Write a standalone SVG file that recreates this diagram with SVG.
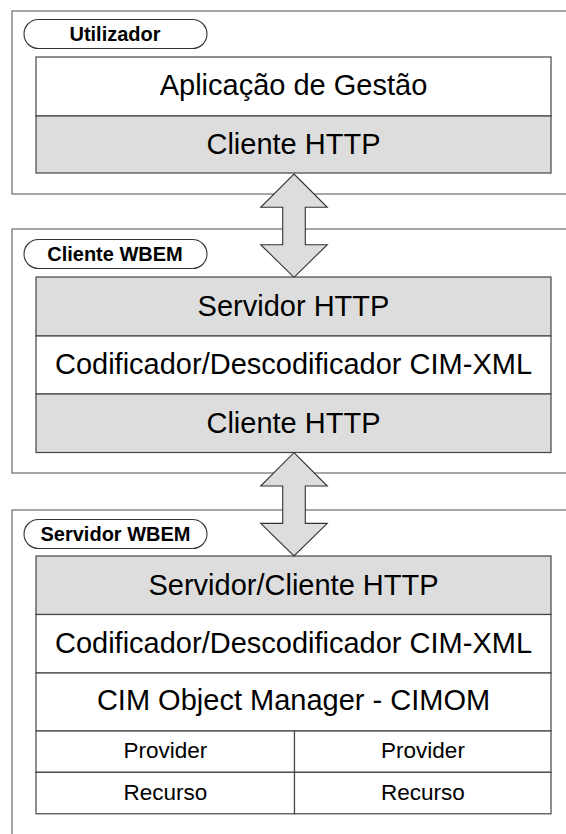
<svg xmlns="http://www.w3.org/2000/svg" width="566" height="834" viewBox="0 0 566 834">
  <style>
    .frame { fill: #ffffff; stroke: #777777; stroke-width: 1.3; }
    .pill { fill: #ffffff; stroke: #333333; stroke-width: 1.1; }
    .cell { fill: #ffffff; stroke: #444444; stroke-width: 1.2; }
    .cell.grey { fill: #dddddd; }
    text { font-family: "Liberation Sans", Arial, sans-serif; fill: #000000; text-anchor: middle; }
    .lbl { font-weight: bold; font-size: 20px; }
    .big { font-size: 29px; }
    .small { font-size: 22.5px; }
    .arrow { fill: #dddddd; stroke: #333333; stroke-width: 1.1; stroke-linejoin: miter; }
  </style>
  <defs>
    <!-- double-headed block arrow, tip at origin, 103 long -->
    <path id="dblArrow" d="M0,0 L33.3,33.3 L11.3,33.3 L11.3,70.7 L33.3,70.7 L0,103.3 L-33.3,70.7 L-11.3,70.7 L-11.3,33.3 L-33.3,33.3 Z"/>
  </defs>

  <rect width="566" height="834" fill="#ffffff"/>

  <!-- Utilizador layer -->
  <g id="utilizador">
    <rect class="frame" x="12" y="11" width="600" height="183"/>
    <rect class="pill" x="24" y="19.5" width="183" height="29" rx="14.5"/>
    <text class="lbl" x="115" y="41">Utilizador</text>
    <g id="aplicacao-gestao">
      <rect class="cell" x="36" y="57" width="515" height="59"/>
      <text class="big" x="293.5" y="95">Aplicação de Gestão</text>
    </g>
    <g id="utilizador-cliente-http">
      <rect class="cell grey" x="36" y="116" width="515" height="57"/>
      <text class="big" x="293.5" y="154">Cliente HTTP</text>
    </g>
  </g>

  <!-- Cliente WBEM layer -->
  <g id="cliente-wbem">
    <rect class="frame" x="12" y="229" width="600" height="244"/>
    <rect class="pill" x="24" y="239.5" width="183" height="29" rx="14.5"/>
    <text class="lbl" x="115" y="261">Cliente WBEM</text>
    <g id="cw-servidor-http">
      <rect class="cell grey" x="36" y="277" width="515" height="59"/>
      <text class="big" x="293.5" y="316">Servidor HTTP</text>
    </g>
    <g id="cw-codificador">
      <rect class="cell" x="36" y="336" width="515" height="58"/>
      <text class="big" x="293.5" y="374">Codificador/Descodificador CIM-XML</text>
    </g>
    <g id="cw-cliente-http">
      <rect class="cell grey" x="36" y="394" width="515" height="58.5"/>
      <text class="big" x="293.5" y="433">Cliente HTTP</text>
    </g>
  </g>

  <!-- Servidor WBEM layer -->
  <g id="servidor-wbem">
    <rect class="frame" x="12" y="510" width="600" height="400"/>
    <rect class="pill" x="24" y="519.5" width="183" height="29" rx="14.5"/>
    <text class="lbl" x="115.5" y="541">Servidor WBEM</text>
    <g id="sw-servidor-cliente-http">
      <rect class="cell grey" x="36" y="556" width="515" height="58.5"/>
      <text class="big" x="293.5" y="595">Servidor/Cliente HTTP</text>
    </g>
    <g id="sw-codificador">
      <rect class="cell" x="36" y="614.5" width="515" height="58.5"/>
      <text class="big" x="293.5" y="653">Codificador/Descodificador CIM-XML</text>
    </g>
    <g id="sw-cimom">
      <rect class="cell" x="36" y="673" width="515" height="58"/>
      <text class="big" x="293.5" y="710">CIM Object Manager - CIMOM</text>
    </g>
    <g id="provider-1">
      <rect class="cell" x="36" y="731" width="258.5" height="41.3"/>
      <text class="small" x="165.3" y="758">Provider</text>
    </g>
    <g id="provider-2">
      <rect class="cell" x="294.5" y="731" width="256.5" height="41.3"/>
      <text class="small" x="423" y="758">Provider</text>
    </g>
    <g id="recurso-1">
      <rect class="cell" x="36" y="772.3" width="258.5" height="41.5"/>
      <text class="small" x="165.3" y="799.5">Recurso</text>
    </g>
    <g id="recurso-2">
      <rect class="cell" x="294.5" y="772.3" width="256.5" height="41.5"/>
      <text class="small" x="423" y="799.5">Recurso</text>
    </g>
  </g>

  <!-- connectors between layers -->
  <g id="connectors">
    <use href="#dblArrow" class="arrow" x="294" y="174"/>
    <use href="#dblArrow" class="arrow" x="294" y="452.7"/>
  </g>
</svg>
